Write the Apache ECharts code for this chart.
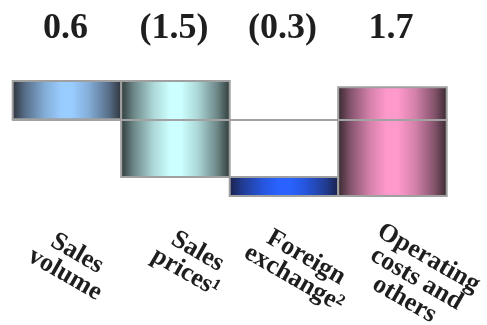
<!DOCTYPE html>
<html>
<head>
<meta charset="utf-8">
<script src="https://cdn.jsdelivr.net/npm/echarts@6/dist/echarts.min.js"></script>
<style>
  html, body { margin: 0; padding: 0; background: #ffffff; }
  #chart { width: 487px; height: 325px; }
</style>
</head>
<body>
<div id="chart"></div>
<script>
// Bridge items, left to right
const categories = ['Sales\nvolume', 'Sales\nprices\u00b9', 'Foreign\nexchange\u00b2', 'Operating\ncosts and\nothers'];
// Change contributed by each item
const changes = [0.6, -1.5, -0.3, 1.7];
// Centre colour and edge colour of each cylinder-shaded bar
const lightColors = ['#99ccff', '#ccffff', '#2962ff', '#ff99cc'];
const darkColors = ['#2b3038', '#2c3636', '#1b2148', '#33262c'];

// Layout of the rotated item names: offset from bar centre, and centre height
const nameOffsetX = [4, 16, 16, 24];
const nameCenterY = [264, 262, 268, 279];
const valueLabelY = 29;

// Running totals: each bar floats from the previous total to the new one
const starts = [];
const ends = [];
let total = 0;
changes.forEach(function (c) {
  starts.push(total);
  total = Math.round((total + c) * 10) / 10;
  ends.push(total);
});

function fmt(v) {
  return v < 0 ? '(' + Math.abs(v).toFixed(1) + ')' : v.toFixed(1);
}

function hexToRgb(h) {
  return [parseInt(h.substr(1, 2), 16), parseInt(h.substr(3, 2), 16), parseInt(h.substr(5, 2), 16)];
}
function mix(a, b, t) {
  const ca = hexToRgb(a), cb = hexToRgb(b);
  return 'rgb(' + ca.map(function (v, k) { return Math.round(v + (cb[k] - v) * t); }).join(',') + ')';
}
function cylinder(i) {
  const d = darkColors[i], l = lightColors[i];
  return new echarts.graphic.LinearGradient(0, 0, 1, 0, [
    { offset: 0, color: d },
    { offset: 0.12, color: mix(d, l, 0.4) },
    { offset: 0.3, color: mix(d, l, 0.8) },
    { offset: 0.45, color: l },
    { offset: 0.55, color: l },
    { offset: 0.7, color: mix(d, l, 0.8) },
    { offset: 0.88, color: mix(d, l, 0.4) },
    { offset: 1, color: d }
  ]);
}

const seriesData = changes.map(function (c, i) { return [i, starts[i], ends[i], c]; });

const chart = echarts.init(document.getElementById('chart'), null, { renderer: 'canvas' });
chart.setOption({
  animation: false,
  backgroundColor: '#ffffff',
  grid: { left: 12.7, width: 434, top: 55.3, height: 160 },
  xAxis: {
    type: 'category',
    data: categories,
    z: 10,
    axisLine: { show: true, onZero: true, lineStyle: { color: '#a2a2a2', width: 2 } },
    axisTick: { show: false },
    axisLabel: { show: false },
    splitLine: { show: false }
  },
  yAxis: {
    type: 'value',
    min: -1.5,
    max: 1.0,
    show: false
  },
  series: [{
    type: 'custom',
    clip: false,
    data: seriesData,
    encode: { x: 0, y: [1, 2] },
    renderItem: function (params, api) {
      const i = api.value(0);
      const p0 = api.coord([i, api.value(1)]);
      const p1 = api.coord([i, api.value(2)]);
      const w = api.size([1, 0])[0];
      const top = Math.min(p0[1], p1[1]);
      const h = Math.abs(p0[1] - p1[1]);
      return {
        type: 'group',
        children: [
          {
            type: 'rect',
            shape: { x: p0[0] - w / 2, y: top, width: w, height: h },
            style: { fill: cylinder(i), stroke: '#a0a0a0', lineWidth: 2 }
          },
          {
            type: 'text',
            x: p0[0] - 1.5,
            y: valueLabelY,
            style: {
              text: fmt(api.value(3)),
              font: 'bold 36px "Liberation Serif", "Times New Roman", serif',
              fill: '#1e1e1e',
              align: 'center',
              verticalAlign: 'middle'
            }
          },
          {
            type: 'text',
            x: p0[0] + nameOffsetX[i],
            y: nameCenterY[i],
            rotation: -Math.PI / 6,
            style: {
              text: categories[i],
              font: 'bold 26px "Liberation Serif", "Times New Roman", serif',
              lineHeight: 24,
              fill: '#1e1e1e',
              align: 'center',
              verticalAlign: 'middle'
            }
          }
        ]
      };
    }
  }]
});
</script>
</body>
</html>
